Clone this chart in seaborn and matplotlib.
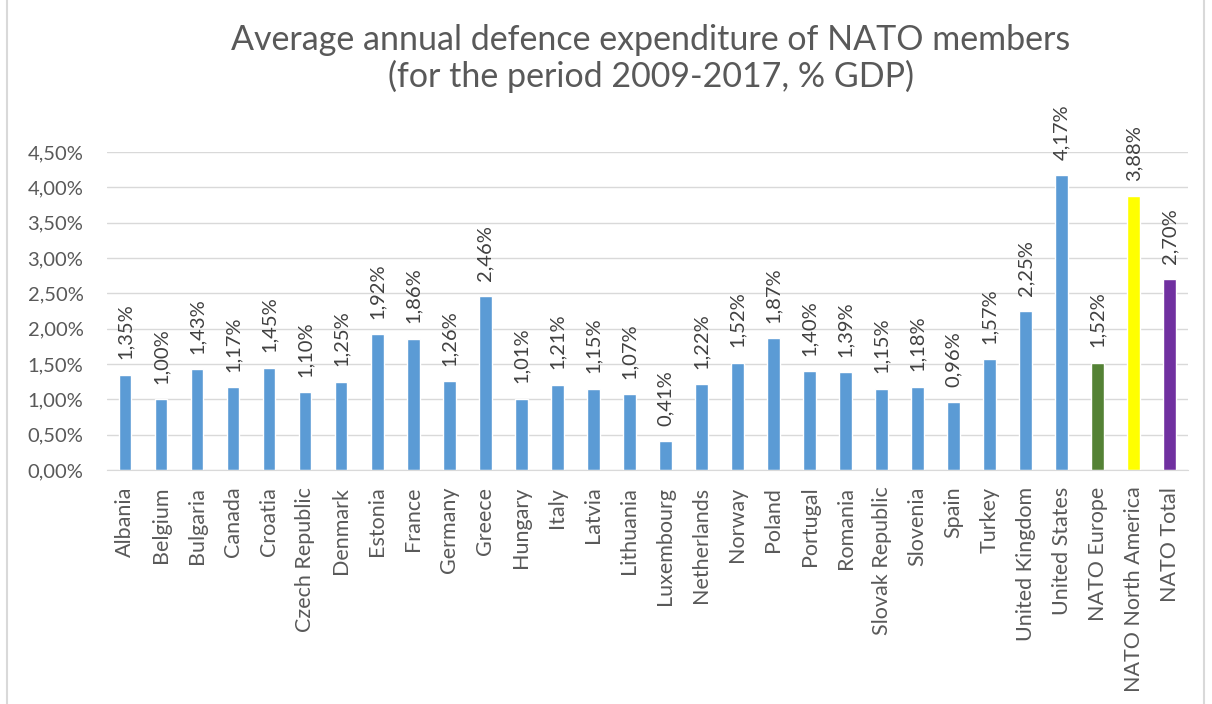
import pandas as pd
import matplotlib.pyplot as plt
import seaborn as sns

# Data
countries = ["Albania", "Belgium", "Bulgaria", "Canada", "Croatia", "Czech Republic",
             "Denmark", "Estonia", "France", "Germany", "Greece", "Hungary", "Italy",
             "Latvia", "Lithuania", "Luxembourg", "Netherlands", "Norway", "Poland",
             "Portugal", "Romania", "Slovak Republic", "Slovenia", "Spain", "Turkey",
             "United Kingdom", "United States", "NATO Europe", "NATO North America",
             "NATO Total"]
values = [1.35, 1.00, 1.43, 1.17, 1.45, 1.10, 1.25, 1.92, 1.86, 1.26, 2.46, 1.01,
          1.21, 1.15, 1.07, 0.41, 1.22, 1.52, 1.87, 1.40, 1.39, 1.15, 1.18, 0.96,
          1.57, 2.25, 4.17, 1.52, 3.88, 2.70]
colors = ["#5B9BD5"] * 27 + ["#548235", "#FFFF00", "#7030A0"]

df = pd.DataFrame({"country": countries, "value": values})

# Plot
sns.set_style("white")
plt.rcParams['font.family'] = ['Lato', 'DejaVu Sans']

fig = plt.figure(figsize=(12.12, 7.04), dpi=100)
ax = fig.add_axes([0.0883, 0.3324, 0.8917, 0.4516])

sns.barplot(data=df, x="country", y="value", hue="country", palette=colors,
            legend=False, width=0.35, saturation=1, ax=ax)

# Data labels
for i, v in enumerate(values):
    ax.annotate(f"{v:.2f}%".replace(".", ","), (i, v), xytext=(0, 11),
                textcoords="offset points", rotation=90, ha="center", va="bottom",
                fontsize=14.5, color="#404040", annotation_clip=False)

# Decorations
ax.set_ylim(0, 4.5)
ax.set_xlim(-0.5, len(countries) - 0.5)
ticks = [i * 0.5 for i in range(10)]
ax.set_yticks(ticks)
ax.set_yticklabels([f"{t:.2f}%".replace(".", ",") for t in ticks])
ax.tick_params(axis="y", labelsize=14.5, colors="#595959", length=0, pad=17)
ax.tick_params(axis="x", labelsize=15.5, colors="#595959", length=0, rotation=90, pad=12)
ax.set_xlabel("")
ax.set_ylabel("")
ax.yaxis.grid(True, color="#D9D9D9", linewidth=1)
ax.set_axisbelow(True)
for s in ["top", "right", "left"]:
    ax.spines[s].set_visible(False)
ax.spines["bottom"].set_color("#D9D9D9")

fig.text(0.537, 0.917, "Average annual defence expenditure of NATO members\n(for the period 2009-2017, % GDP)",
         ha="center", va="center", fontsize=24.5, color="#595959", linespacing=1.15)

# Chart frame
fig.add_artist(plt.Line2D([0.006, 0.006], [0, 1], color="#D9D9D9", linewidth=1.5))
fig.add_artist(plt.Line2D([0.993, 0.993], [0, 1], color="#D9D9D9", linewidth=1.5))

fig.savefig("out.png", dpi=100)
